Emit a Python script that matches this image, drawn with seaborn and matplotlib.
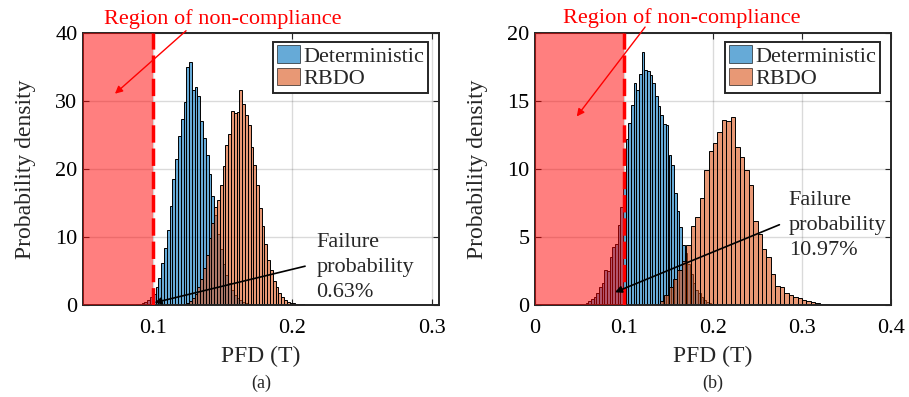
import numpy as np
import pandas as pd
import matplotlib
matplotlib.use('Agg')
import matplotlib.pyplot as plt
import seaborn as sns
from matplotlib.patches import Patch

# ---- data (probability density per bin) ----
# (a): both histograms use 0.002 wide bins
a_det_start, a_rbdo_start, a_width = 0.088, 0.122, 0.002
a_det = [0.1, 0.2, 0.3, 0.4, 0.7, 1.2, 1.6, 2.6, 4.0, 6.2, 8.4, 11.0, 14.5, 18.6,
         21.5, 24.8, 27.4, 29.8, 35.0, 35.7, 31.6, 32.0, 30.8, 27.0, 24.5, 22.0,
         19.2, 16.0, 13.2, 10.5, 8.2, 6.0, 4.4, 3.2, 2.2, 1.5, 1.0, 0.7, 0.4,
         0.25, 0.15, 0.1]
a_rbdo = [0.1, 0.3, 0.6, 1.0, 1.6, 2.6, 3.8, 5.4, 7.4, 9.8, 12.0, 14.4, 15.4,
          17.6, 20.4, 23.6, 25.2, 28.6, 28.2, 28.4, 31.6, 29.6, 28.0, 26.4, 23.2,
          20.6, 17.6, 14.2, 11.6, 9.0, 6.6, 5.2, 3.6, 2.6, 1.8, 1.2, 0.8, 0.5,
          0.35, 0.25, 0.15, 0.1, 0.1, 0.05]

# (b): deterministic 0.003 wide bins, RBDO 0.005 wide bins
b_det_start, b_det_width = 0.051, 0.003
b_det = [0.05, 0.1, 0.15, 0.27, 0.45, 0.6, 0.86, 1.3, 1.6, 2.6, 2.5, 3.5, 4.25,
         4.45, 5.85, 7.2, 9.8, 12.2, 13.4, 14.7, 16.3, 15.8, 17.0, 18.6, 17.3,
         17.2, 16.9, 16.3, 15.4, 14.6, 14.0, 13.3, 13.2, 11.0, 10.3, 8.2, 6.9,
         5.7, 4.4, 3.8, 3.0, 2.3, 1.6, 1.1, 0.9, 0.6, 0.4, 0.25, 0.15, 0.1]
b_rbdo_start, b_rbdo_width = 0.135, 0.005
b_rbdo = [0.1, 0.3, 0.7, 1.3, 1.9, 2.6, 3.2, 4.4, 5.8, 6.5, 7.9, 9.9, 11.3, 11.9,
          12.7, 13.6, 13.5, 13.8, 11.6, 10.9, 9.9, 8.8, 6.2, 5.2, 4.1, 3.5, 2.3,
          1.4, 1.3, 0.9, 0.75, 0.6, 0.5, 0.4, 0.3, 0.2, 0.15, 0.08, 0.04]

fail_a = '0.63%'
fail_b = '10.97%'
limit = 0.1

a_xticks, a_xticklabels = [0.1, 0.2, 0.3], ['0.1', '0.2', '0.3']
a_yticks = [0, 10, 20, 30, 40]
b_xticks, b_xticklabels = [0, 0.1, 0.2, 0.3, 0.4], ['0', '0.1', '0.2', '0.3', '0.4']
b_yticks = [0, 5, 10, 15, 20]

blue = '#0072BD'
orange = '#D95319'

sns.set_style('ticks')
plt.rcParams['font.family'] = ['Liberation Serif', 'DejaVu Serif']
plt.rcParams['font.size'] = 16


def edges(start, width, n):
    return start + width * np.arange(n + 1)


def draw_hist(ax, start, width, heights, color):
    e = edges(start, width, len(heights))
    df = pd.DataFrame({'pfd': (e[:-1] + e[1:]) / 2, 'density': heights})
    sns.histplot(data=df, x='pfd', weights='density', bins=e.tolist(),
                 stat='count', ax=ax, color=color, alpha=0.6,
                 edgecolor='black', linewidth=0.7)


fig = plt.figure(figsize=(9.09, 3.97), dpi=100)
ax_a = fig.add_axes([83 / 909, 1 - 305 / 397, 356 / 909, 272 / 397])
ax_b = fig.add_axes([535 / 909, 1 - 305 / 397, 356 / 909, 272 / 397])

draw_hist(ax_a, a_det_start, a_width, a_det, blue)
draw_hist(ax_a, a_rbdo_start, a_width, a_rbdo, orange)
draw_hist(ax_b, b_det_start, b_det_width, b_det, blue)
draw_hist(ax_b, b_rbdo_start, b_rbdo_width, b_rbdo, orange)

settings = [
    (ax_a, (0.05, 0.305), (0, 40), a_xticks, a_xticklabels, a_yticks, '(a)'),
    (ax_b, (0, 0.4), (0, 20), b_xticks, b_xticklabels, b_yticks, '(b)'),
]
for ax, xl, yl, xt, xtl, yt, tag in settings:
    ax.set_xlim(*xl)
    ax.set_ylim(*yl)
    # shaded failure region and the limit line on top of the bars
    ax.axvspan(xl[0], limit, color='red', alpha=0.5, lw=0, zorder=3)
    ax.axvline(limit, color='red', lw=2.5, ls=(0, (5, 1.7)), zorder=4)
    ax.set_xticks(xt)
    ax.set_xticklabels(xtl)
    ax.set_yticks(yt)
    ax.grid(True, color='#262626', alpha=0.17, lw=1.0)
    ax.set_axisbelow(True)
    ax.tick_params(direction='in', length=4, width=0.8, top=True, right=True,
                   labelsize=16, colors='#262626')
    ax.tick_params(axis='x', pad=10)
    ax.tick_params(axis='y', pad=4)
    ax.tick_params(labelcolor='black')
    for s in ax.spines.values():
        s.set_color('#262626')
        s.set_linewidth(1.4)
    ax.set_xlabel('PFD (T)', fontsize=17, labelpad=6)
    ax.set_ylabel('Probability density', fontsize=17, labelpad=14)
    handles = [Patch(facecolor=blue, alpha=0.6, edgecolor='black', lw=0.7),
               Patch(facecolor=orange, alpha=0.6, edgecolor='black', lw=0.7)]
    leg = ax.legend(handles, ['Deterministic', 'RBDO'], loc='upper right',
                    bbox_to_anchor=(0.968, 0.968), borderaxespad=0,
                    fancybox=False, framealpha=1, edgecolor='#262626',
                    fontsize=16, handlelength=1.05, handleheight=0.85,
                    handletextpad=0.15, borderpad=0.15, labelspacing=0.05)
    leg.get_frame().set_linewidth(1.4)
    ax.text(0.5, -0.287, tag, transform=ax.transAxes, ha='center',
            va='center', fontsize=13)

# region annotations
ax_a.text(0.150, 42.1, 'Region of non-compliance', color='red', fontsize=16,
          ha='center', va='center', clip_on=False)
ax_a.annotate('', xy=(0.0714, 30.8), xytext=(0.1253, 40.6),
              arrowprops=dict(arrowstyle='-|>', color='red', lw=1,
                              mutation_scale=11), annotation_clip=False)
ax_b.text(0.165, 21.1, 'Region of non-compliance', color='red', fontsize=16,
          ha='center', va='center', clip_on=False)
ax_b.annotate('', xy=(0.045, 13.7), xytext=(0.1256, 20.6),
              arrowprops=dict(arrowstyle='-|>', color='red', lw=1,
                              mutation_scale=11), annotation_clip=False)

# failure probability annotations
ax_a.text(0.2173, 5.5, 'Failure\nprobability\n' + fail_a, fontsize=16,
          ha='left', va='center', linespacing=1.45, zorder=6)
ax_a.annotate('', xy=(0.0993, 0.25), xytext=(0.211, 5.8),
              arrowprops=dict(arrowstyle='-|>', color='black', lw=1.2,
                              mutation_scale=10), zorder=6)
ax_b.text(0.285, 5.85, 'Failure\nprobability\n' + fail_b, fontsize=16,
          ha='left', va='center', linespacing=1.45, zorder=6)
ax_b.annotate('', xy=(0.087, 0.86), xytext=(0.2775, 5.98),
              arrowprops=dict(arrowstyle='-|>', color='black', lw=1.2,
                              mutation_scale=10), zorder=6)

fig.savefig('out.png', dpi=100)
